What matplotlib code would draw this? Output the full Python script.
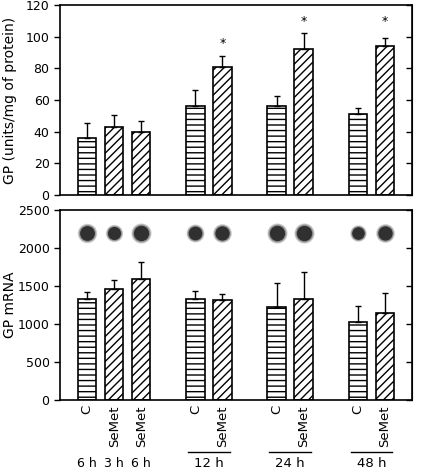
import matplotlib
matplotlib.use("Agg")
import matplotlib.pyplot as plt
import matplotlib.transforms as mtransforms
import numpy as np

# ---- data ----
positions = [0, 1, 2, 4, 5, 7, 8, 10, 11]
treatments = ["C", "SeMet", "SeMet", "C", "SeMet", "C", "SeMet", "C", "SeMet"]
gp_activity = [36, 43, 40, 56, 81, 56, 92, 51, 94]
gp_activity_err = [9.5, 7.5, 7, 10.5, 7, 6.5, 10, 4, 5]
gp_asterisk_y = [None, None, None, None, 96, None, 109.5, None, 109.5]
gp_mrna = [1335, 1465, 1595, 1325, 1310, 1230, 1330, 1020, 1140]
gp_mrna_err = [90, 115, 215, 105, 90, 315, 355, 215, 265]
blot_value = 2195
blot_size = [13, 11.5, 13.5, 12, 12.5, 13.5, 13.5, 11, 12.5]
time_labels_single = [(0, "6 h"), (1, "3 h"), (2, "6 h")]
time_groups = [((4, 5), "12 h"), ((7, 8), "24 h"), ((10, 11), "48 h")]

plt.rcParams["font.family"] = "DejaVu Sans"
plt.rcParams["font.size"] = 9
plt.rcParams["hatch.linewidth"] = 1.0

fig = plt.figure(figsize=(4.32, 4.75), dpi=100)
ax1 = fig.add_axes([60/432, 1-195/475, 352/432, 190/475])
ax2 = fig.add_axes([60/432, 1-400/475, 352/432, 190/475])

hatches = ["---" if t == "C" else "////" for t in treatments]
width = 0.68

def draw_bars(ax, vals, errs):
    for p, v, e, h in zip(positions, vals, errs, hatches):
        ax.bar(p, v, width=width, facecolor="white", edgecolor="black",
               hatch=h, linewidth=1.2, zorder=2)
        ax.errorbar(p, v, yerr=[[0], [e]], fmt="none", ecolor="black",
                    elinewidth=1.0, capsize=2.5, capthick=1.0, zorder=3)

draw_bars(ax1, gp_activity, gp_activity_err)
draw_bars(ax2, gp_mrna, gp_mrna_err)

for p, ay in zip(positions, gp_asterisk_y):
    if ay is not None:
        ax1.text(p, ay, "*", ha="center", va="center", fontsize=9)

# blots (soft dark spots)
for p, sz in zip(positions, blot_size):
    n = 10
    for k in range(n):
        f = 1.45 - k * 0.06
        ax2.scatter([p], [blot_value], s=(sz * f * 0.75) ** 2, color="#303030",
                    alpha=0.13 if k < 6 else 0.85, linewidths=0, zorder=4)

for ax, top, step in [(ax1, 120, 20), (ax2, 2500, 500)]:
    ax.set_xlim(-1, 12)
    ax.set_ylim(0, top)
    ax.set_yticks(np.arange(0, top + 1, step))
    ax.set_xticks([])
    ax.tick_params(axis="y", direction="out", length=4, width=1, labelsize=9)
    for sp in ax.spines.values():
        sp.set_linewidth(1.2)
    sec = ax.secondary_yaxis("right")
    sec.set_yticks(ax.get_yticks())
    sec.tick_params(direction="in", length=4, width=1, labelright=False)

ax1.set_ylabel("GP (units/mg of protein)", fontsize=10)
ax2.set_ylabel("GP mRNA", fontsize=10)
ax1.yaxis.set_label_coords(-0.123, 0.5)
ax2.yaxis.set_label_coords(-0.123, 0.5)

trans = mtransforms.blended_transform_factory(ax2.transData, ax2.transAxes)
for p, t in zip(positions, treatments):
    ax2.text(p, -0.027, t, rotation=90, ha="center", va="top", fontsize=9.5, transform=trans)

for p, t in time_labels_single:
    ax2.text(p, -0.335, t, ha="center", va="center", fontsize=9, transform=trans)
for (a, b), t in time_groups:
    ax2.plot([a - 0.27, b + 0.27], [-0.274, -0.274], color="black", lw=1.0,
             transform=trans, clip_on=False)
    ax2.text((a + b) / 2, -0.335, t, ha="center", va="center", fontsize=9.5, transform=trans)

fig.savefig("out.png", dpi=100)
